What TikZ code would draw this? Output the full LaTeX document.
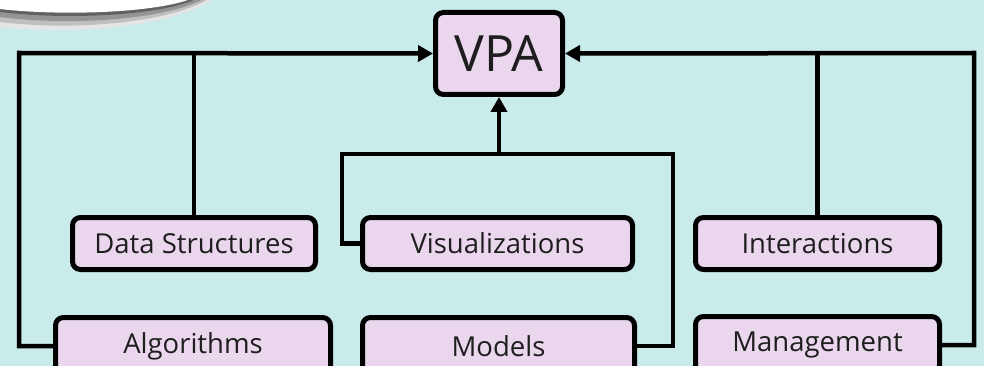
\documentclass[tikz,border=0pt]{standalone}
\usepackage{fontspec}
\setmainfont{Open Sans}
\usepackage{tikz}
\usetikzlibrary{arrows.meta,positioning}
\definecolor{vpback}{RGB}{201,235,234}
\definecolor{vpfill}{RGB}{234,215,237}
\definecolor{vptext}{RGB}{30,30,30}
\tikzset{
  vpbox/.style={
    rectangle, rounded corners=8pt, draw=black, fill=vpfill, line width=5pt,
    inner sep=0pt, text=vptext, font=\fontsize{27.5}{32}\selectfont
  },
  vpmain/.style={vpbox, font=\fontsize{50}{56}\selectfont},
  vpline/.style={line width=4.5pt, draw=black},
  vparrow/.style={vpline, -{Triangle[length=15pt,width=16pt]}}
}

\begin{document}
\begin{tikzpicture}[x=1pt,y=-1pt]
  \useasboundingbox (0,0) rectangle (984,366);
  \clip (0,0) rectangle (984,366);
  \fill[vpback] (0,0) rectangle (984,366);

  % white shape with its soft shadow in the corner
  \fill[black!10] (0,0) -- (0,27) .. controls (80,36) and (170,26) .. (212,0) -- cycle;
  \fill[black!25] (0,0) -- (0,22) .. controls (75,31) and (165,23) .. (207,0) -- cycle;
  \fill[black!42] (0,0) -- (0,17) .. controls (70,26) and (160,20) .. (202,0) -- cycle;
  \fill[black!62] (0,0) -- (0,12) .. controls (65,20) and (155,16) .. (194,0) -- cycle;
  \fill[white] (0,0) -- (0,9) .. controls (60,16) and (150,13) .. (188,0) -- cycle;

  % the boxes
  \node[vpmain, minimum width=127pt, minimum height=82pt] (vpa) at (499,53.5) {VPA};

  \node[vpbox, minimum width=243pt, minimum height=52pt] (ds) at (194,243.5) {Data Structures};
  \node[vpbox, minimum width=270pt, minimum height=52pt] (vis) at (497.5,243.5) {Visualizations};
  \node[vpbox, minimum width=244pt, minimum height=52pt] (inter) at (817.5,243.5) {Interactions};

  \node[vpbox, minimum width=275pt, minimum height=57pt] (algo) at (193,346) {Algorithms};
  \node[vpbox, minimum width=272pt, minimum height=57pt] (models) at (498.5,346) {Models};
  \node[vpbox, minimum width=244pt, minimum height=57pt] (mgmt) at (817.5,345) {Management};

  % left side: algorithms and data structures
  \coordinate (tl) at (19,53);
  \draw[vparrow] (algo.west) -| (tl) -- (vpa.west);
  \draw[vpline] (ds.north) -- (ds.north |- vpa.west);

  % middle: visualizations and models
  \coordinate (jl) at (342,154);
  \coordinate (jr) at (673,154);
  \draw[vpline] (vis.west) -| (jl) -- (jr) |- (models.east);
  \draw[vparrow] (vpa.south |- jl) -- (vpa.south);

  % right side: management and interactions
  \coordinate (tr) at (974,53);
  \draw[vparrow] (mgmt.east) -| (tr) -- (vpa.east);
  \draw[vpline] (inter.north) -- (inter.north |- vpa.east);
\end{tikzpicture}
\end{document}
